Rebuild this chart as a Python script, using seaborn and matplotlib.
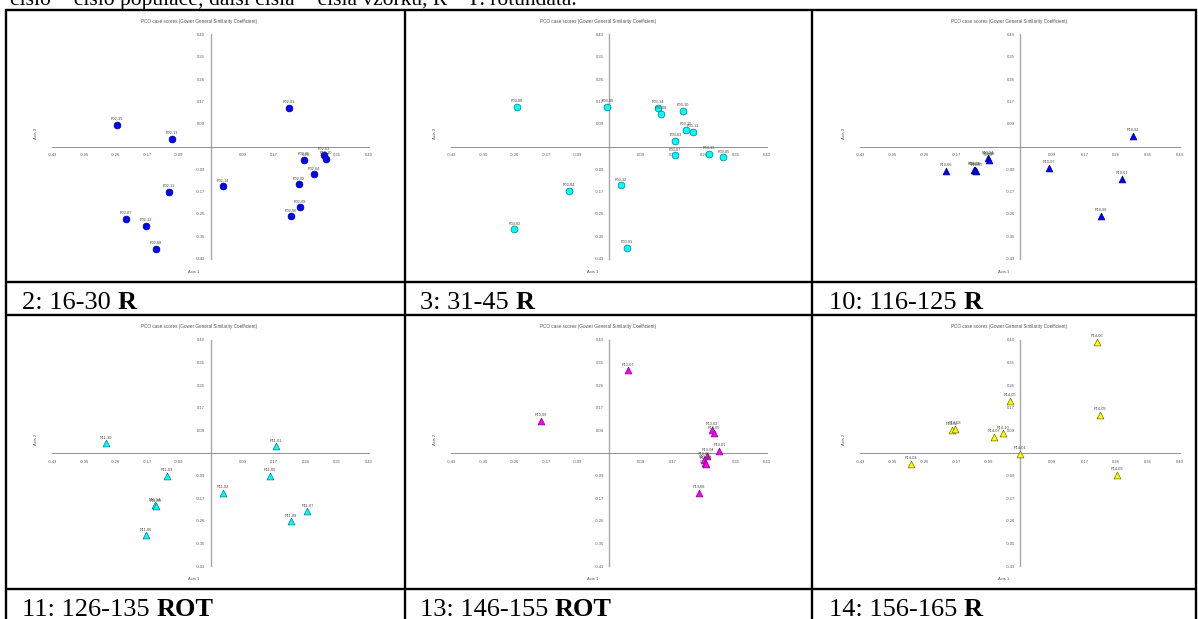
import numpy as np
import pandas as pd
import matplotlib
matplotlib.use("Agg")
import matplotlib.pyplot as plt
import seaborn as sns

W, H = 1198, 619

# tick marks shared by all six PCO panels
tick_values = [-0.434, -0.347, -0.26, -0.174, -0.087, 0.087, 0.174, 0.26, 0.347, 0.434]
tick_labels = ["-0.43", "-0.35", "-0.26", "-0.17", "-0.09", "0.09", "0.17", "0.26", "0.35", "0.43"]

# 2: 16-30 R
p02_ids = ["P02-15", "P02-13", "P02-01", "P02-05", "P02-03", "P02-10", "P02-04", "P02-02",
           "P02-09", "P02-06", "P02-14", "P02-11", "P02-07", "P02-12", "P02-08"]
p02_x = [-0.257, -0.106, 0.215, 0.255, 0.311, 0.315, 0.284, 0.241, 0.244, 0.221, 0.033, -0.114, -0.232, -0.178, -0.150]
p02_y = [0.083, 0.029, 0.149, -0.051, -0.032, -0.047, -0.108, -0.146, -0.234, -0.270, -0.154, -0.175, -0.279, -0.306, -0.395]

# 3: 31-45 R
p03_ids = ["P03-06", "P03-09", "P03-14", "P03-08", "P03-10", "P03-15", "P03-11", "P03-03",
           "P03-07", "P03-13", "P03-05", "P03-12", "P03-04", "P03-02", "P03-01"]
p03_x = [-0.255, -0.005, 0.133, 0.142, 0.203, 0.210, 0.229, 0.182, 0.181, 0.274, 0.314, 0.033, -0.110, -0.261, 0.048]
p03_y = [0.152, 0.152, 0.149, 0.126, 0.138, 0.065, 0.057, 0.022, -0.034, -0.029, -0.042, -0.149, -0.171, -0.320, -0.391]

# 10: 116-125 R
p10_ids = ["P10-02", "P10-04", "P10-08", "P10-06", "P10-03", "P10-05", "P10-10", "P10-07", "P10-01", "P10-09"]
p10_x = [0.305, -0.088, -0.085, -0.202, -0.126, -0.119, -0.122, 0.077, 0.275, 0.219]
p10_y = [0.041, -0.046, -0.052, -0.093, -0.089, -0.093, -0.091, -0.083, -0.124, -0.268]

# 11: 126-135 ROT
p11_ids = ["P11-10", "P11-01", "P11-03", "P11-05", "P11-02", "P11-04", "P11-09", "P11-07", "P11-08", "P11-06"]
p11_x = [-0.287, 0.179, -0.121, 0.163, 0.034, -0.154, -0.150, 0.265, 0.220, -0.178]
p11_y = [0.037, 0.025, -0.087, -0.087, -0.154, -0.201, -0.204, -0.224, -0.262, -0.316]

# 13: 146-155 ROT
p13_ids = ["P13-07", "P13-09", "P13-02", "P13-05", "P13-01", "P13-04", "P13-06", "P13-10", "P13-03", "P13-08"]
p13_x = [0.051, -0.188, 0.283, 0.288, 0.303, 0.270, 0.260, 0.263, 0.265, 0.246]
p13_y = [0.317, 0.124, 0.089, 0.076, 0.009, -0.011, -0.027, -0.038, -0.042, -0.154]

# 14: 156-165 R
p14_ids = ["P14-06", "P14-05", "P14-09", "P14-02", "P14-08", "P14-07", "P14-10", "P14-01", "P14-04", "P14-03"]
p14_x = [0.209, -0.029, 0.215, -0.185, -0.178, -0.072, -0.046, 0.000, -0.297, 0.262]
p14_y = [0.427, 0.200, 0.146, 0.090, 0.094, 0.062, 0.075, -0.004, -0.042, -0.084]

captions = [("2: 16-30", "R"), ("3: 31-45", "R"), ("10: 116-125", "R"),
            ("11: 126-135", "ROT"), ("13: 146-155", "ROT"), ("14: 156-165", "R")]

top_note = "číslo = číslo populace; další čísla = čísla vzorku, R = P. rotundata."

panels = [
    (p02_ids, p02_x, p02_y, "o", "#0000ff", "#000080"),
    (p03_ids, p03_x, p03_y, "o", "#00ffff", "#007b7b"),
    (p10_ids, p10_x, p10_y, "^", "#0000ff", "#000080"),
    (p11_ids, p11_x, p11_y, "^", "#00ffff", "#007b7b"),
    (p13_ids, p13_x, p13_y, "^", "#ff00ff", "#800080"),
    (p14_ids, p14_x, p14_y, "^", "#ffff00", "#707000"),
]

sns.set_style("white")
plt.rcParams["font.family"] = ["Liberation Sans", "DejaVu Sans"]

fig = plt.figure(figsize=(W / 100, H / 100), dpi=100, facecolor="white")

# page / table layer in pixel coordinates
bg = fig.add_axes([0, 0, 1, 1])
bg.set_xlim(0, W)
bg.set_ylim(H, 0)
bg.axis("off")

col_lines = [6, 405, 812, 1196]
row_lines = [10, 282, 315, 589]
for yl in row_lines:
    bg.plot([5, 1197], [yl, yl], color="black", lw=1.7, solid_capstyle="butt")
for xl in col_lines:
    bg.plot([xl, xl], [9, H], color="black", lw=1.7, solid_capstyle="butt")

bg.text(10, 5, top_note, family=["Liberation Serif", "DejaVu Serif"], fontsize=15.5,
        ha="left", va="baseline", color="black")

cap_left = [22, 420, 829]
cap_base = [309, 616]

# axes geometry (pixels): y-axis position, half width, top / bottom of tick range
col_cx = [210.7, 609.3, 1020.3]
col_hw = [158.3, 157.8, 160.0]
row_top = [34, 340]
row_bot = [259, 566]

for i, (ids, xs, ys, marker, face, edge) in enumerate(panels):
    r, c = divmod(i, 3)
    left = col_cx[c] - col_hw[c]
    w = 2 * col_hw[c]
    top = row_top[r]
    h = row_bot[r] - row_top[r]
    ax = fig.add_axes([left / W, 1 - (top + h) / H, w / W, h / H])
    ax.patch.set_visible(False)

    df = pd.DataFrame({"x": xs, "y": ys, "id": ids})
    sns.scatterplot(data=df, x="x", y="y", ax=ax, marker=marker, color=face,
                    edgecolor=edge, linewidth=0.5, s=24, legend=False,
                    clip_on=False, zorder=3)
    for _, row in df.iterrows():
        ax.annotate(row["id"], (row["x"], row["y"]), xytext=(0, 2.6),
                    textcoords="offset points", ha="center", va="bottom",
                    fontsize=2.8, color="#444444", zorder=4)

    ax.set_xlim(-0.434, 0.434)
    ax.set_ylim(-0.434, 0.434)
    for s in ["top", "right"]:
        ax.spines[s].set_visible(False)
    ax.spines["left"].set_position(("data", 0))
    ax.spines["bottom"].set_position(("data", 0))
    ax.spines["left"].set_color("#a8a8a8")
    ax.spines["left"].set_linewidth(1.0)
    ax.spines["bottom"].set_color("#909090")
    ax.spines["bottom"].set_linewidth(0.7)
    ax.set_xticks(tick_values)
    ax.set_xticklabels(tick_labels)
    ax.set_yticks(tick_values)
    ax.set_yticklabels(tick_labels)
    ax.tick_params(direction="inout", length=5, width=0.6, color="#888888",
                   labelsize=3, labelcolor="#555555", pad=1.5)
    ax.tick_params(axis="x", pad=2.5)
    ax.set_xlabel("")
    ax.set_ylabel("")

    ax.text(0.465, 1 + 13 / h, "PCO case scores (Gower General Similarity Coefficient)",
            transform=ax.transAxes, ha="center", va="center", fontsize=3.3, color="#555555")
    ax.text(-16.5 / w, 0.56, "Axis 2", transform=ax.transAxes, rotation=90,
            ha="center", va="center", fontsize=3, color="#555555")
    ax.text(0.5 - 17 / w, -13 / h, "Axis 1", transform=ax.transAxes,
            ha="center", va="center", fontsize=3, color="#555555")

    reg, bold = captions[i]
    t = bg.text(cap_left[c], cap_base[r], reg, family=["Liberation Serif", "DejaVu Serif"],
                fontsize=19, ha="left", va="baseline", color="black")
    bg.annotate(bold, xy=(1, 0), xycoords=t, xytext=(4.8, 0), textcoords="offset points",
                family=["Liberation Serif", "DejaVu Serif"], fontsize=19, fontweight="bold",
                ha="left", va="bottom", color="black")

fig.savefig("out.png", dpi=100, facecolor="white")
